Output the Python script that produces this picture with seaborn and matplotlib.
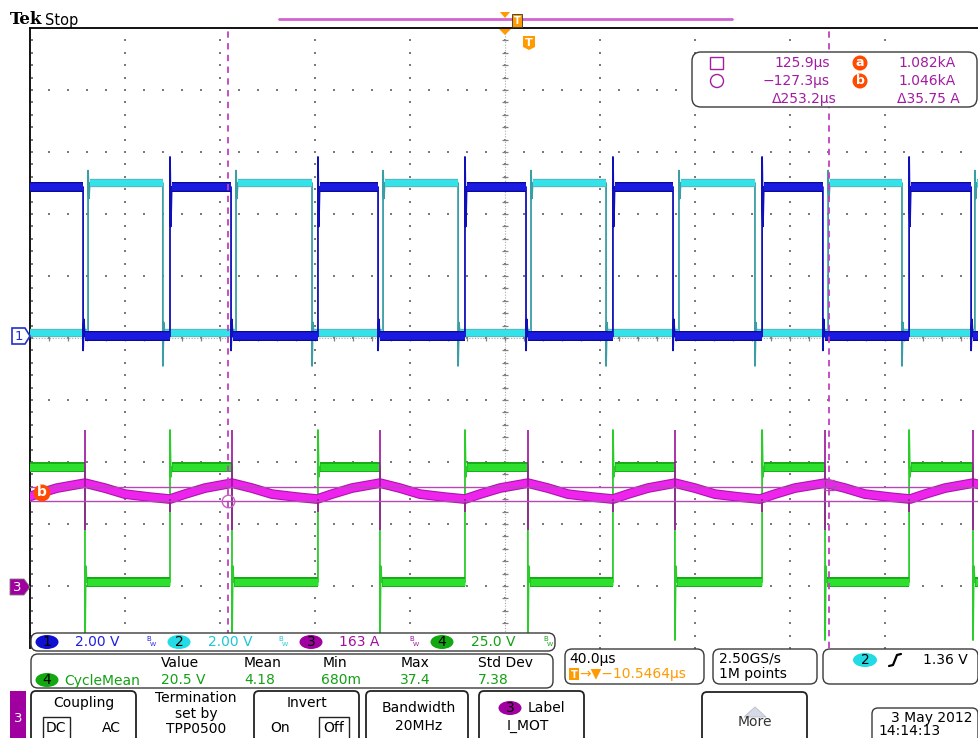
import numpy as np
import pandas as pd
import matplotlib
matplotlib.use("Agg")
import matplotlib.pyplot as plt
from matplotlib.patches import FancyBboxPatch, Polygon, Circle, Ellipse, Rectangle
import seaborn as sns

# ---------------- acquisition settings ----------------
T_CENTER_US = -10.5464          # time at screen centre (µs)
US_PER_DIV = 40.0
N_HDIV = 10
N_VDIV = 10
CH_SCALE = {"1": 2.0, "2": 2.0, "3": 163.0, "4": 25.0}
CH_POS_DIV = {"1": 5.0, "2": 5.0, "3": 1.0, "4": 1.0}   # divisions from bottom
CH3_OFFSET_A = 822.0

# ---------------- waveform edges (µs) ----------------
CH1_RISE_US = [-213.9, -151.6, -89.3, -27.4, 34.9, 97.7, 159.6]
CH1_FALL_US = [-188.2, -125.9, -64.0, -1.7, 60.2, 123.3, 185.7]
CH2_RISE_US = [-186.1, -123.8, -61.9, 0.4, 62.7, 125.5, 187.3]
CH2_FALL_US = [-216.4, -154.6, -91.8, -30.3, 32.0, 94.7, 156.6]
CH4_RISE_US = [-213.9, -151.6, -89.3, -27.4, 34.9, 97.7, 159.6]
CH4_FALL_US = [-249.7, -187.4, -125.5, -63.2, -0.9, 61.0, 124.2, 186.5]

# levels (low, high) and edge spikes (peak, ring)
CH1_LEVELS_V = (0.05, 4.87)
CH1_RISE_SPIKE_V = (5.84, 3.6)
CH1_FALL_SPIKE_V = (-0.4, 0.6)
CH2_LEVELS_V = (0.15, 5.0)
CH2_RISE_SPIKE_V = (5.4, 4.5)
CH2_FALL_SPIKE_V = (-0.9, 0.5)
CH4_LEVELS_V = (1.6, 48.0)
CH4_RISE_SPIKE_V = (62.9, 44.0)
CH4_FALL_SPIKE_V = (-21.8, 8.0)

# motor current: one switching cycle, starting at each CH4 falling edge
CH3_CYCLE_DT_US = [0.0, 8.4, 16.8, 27.4, 35.8, 42.1, 50.5]
CH3_CYCLE_A = [1092.5, 1079.4, 1063.6, 1055.7, 1050.5, 1063.6, 1079.4]
CH3_SPIKE_AT_FALL_A = (1232.0, 969.0)
CH3_SPIKE_AT_RISE_A = (1050.0, 1016.0)

# cursors
CURSOR_T_US = [125.9, -127.3]
CURSOR_I_A = [1082.0, 1046.0]

# readouts
CH_LABELS = ["2.00 V", "2.00 V", "163 A", "25.0 V"]
MEAS_HEAD = ["Value", "Mean", "Min", "Max", "Std Dev"]
MEAS_VALS = ["20.5 V", "4.18", "680m", "37.4", "7.38"]

# ---------------- helpers ----------------
def to_div(ch, v):
    off = CH3_OFFSET_A if ch == "3" else 0.0
    return CH_POS_DIV[ch] + (np.asarray(v, dtype=float) - off) / CH_SCALE[ch]


def square(rises, falls, levels, rs, fs, t_start=-260.0, t_end=240.0):
    lo, hi = levels
    ev = sorted([(t, 1) for t in rises] + [(t, 0) for t in falls])
    level = lo if ev[0][1] == 1 else hi
    pts = [(t_start, level)]
    plateaus = []
    seg_start = t_start
    for t, typ in ev:
        if typ == 1:
            pts += [(t, lo), (t, rs[0]), (t + 0.35, rs[1]), (t + 0.7, hi)]
            plateaus.append((seg_start, t, lo))
            level = hi
        else:
            pts += [(t, hi), (t, fs[0]), (t + 0.35, fs[1]), (t + 0.7, lo)]
            plateaus.append((seg_start, t, hi))
            level = lo
        seg_start = t + 0.7
    pts.append((t_end, level))
    plateaus.append((seg_start, t_end, level))
    return pts, plateaus


def plateau_df(ch, plateaus):
    rows = []
    for i, (a, b, v) in enumerate(plateaus):
        rows.append((a, float(to_div(ch, v)), i))
        rows.append((b, float(to_div(ch, v)), i))
    return pd.DataFrame(rows, columns=["t", "y", "seg"])


def pts_df(ch, pts, seg=0):
    return pd.DataFrame({"t": [p[0] for p in pts],
                         "y": to_div(ch, [p[1] for p in pts]),
                         "seg": seg})


def line(ax, df, color, lw, zorder, alpha=1.0):
    sns.lineplot(data=df, x="t", y="y", units="seg", estimator=None, sort=False,
                 color=color, lw=lw, ax=ax, legend=False, zorder=zorder,
                 alpha=alpha, solid_capstyle="butt")


# ---------------- figure ----------------
sns.set_theme(style="white")
plt.rcParams["font.family"] = ["DejaVu Sans"]
W, H = 979, 738
fig = plt.figure(figsize=(W / 100, H / 100), dpi=100)
fig.patch.set_facecolor("white")

ax = fig.add_axes([30 / W, (H - 648) / H, 950 / W, 620 / H])
ax.set_xlim(T_CENTER_US - 5 * US_PER_DIV, T_CENTER_US + 5 * US_PER_DIV)
ax.set_ylim(0, N_VDIV)
ax.set_facecolor("white")
for s in ["right", "bottom"]:
    ax.spines[s].set_visible(False)
for s in ["left", "top"]:
    ax.spines[s].set_color("#111111")
    ax.spines[s].set_linewidth(1.4)
ax.set_xticks([]); ax.set_yticks([])
ax.set_xlabel(""); ax.set_ylabel("")

# graticule dots
gx, gy = [], []
for k in range(-4, 5):
    tx = T_CENTER_US + k * US_PER_DIV
    for y in np.arange(0, N_VDIV + 0.01, 0.2):
        gx.append(tx); gy.append(y)
for j in range(1, N_VDIV + 1):
    for tt in np.arange(-200, 200.1, 8):
        gx.append(T_CENTER_US + tt); gy.append(j)
for y in np.arange(0, N_VDIV + 0.01, 0.2):
    gx.append(T_CENTER_US - 200 + 1.0); gy.append(y)
sns.scatterplot(x=gx, y=gy, ax=ax, s=1.8, color="#7a7a7a", marker="s",
                linewidth=0, zorder=1, legend=False)
# centre cross with fine ticks
ax.plot([T_CENTER_US, T_CENTER_US], [0, N_VDIV], color="#aaaaaa", lw=0.8,
        dashes=(1, 1.5), zorder=1)
ax.plot(np.full(51, T_CENTER_US), np.arange(0, 10.01, 0.2), ls="none",
        marker="_", ms=5, mew=0.9, color="#808080", zorder=1)
ax.plot([T_CENTER_US - 200, T_CENTER_US + 200], [5, 5], color="#aaaaaa", lw=0.8,
        dashes=(1, 1.5), zorder=1)
ax.plot(T_CENTER_US + np.arange(-200, 200.1, 8), np.full(51, 5.0), ls="none",
        marker="|", ms=5, mew=0.9, color="#808080", zorder=1)

# ---- CH4 (green) ----
p4, pl4 = square(CH4_RISE_US, CH4_FALL_US, CH4_LEVELS_V, CH4_RISE_SPIKE_V, CH4_FALL_SPIKE_V)
line(ax, pts_df("4", p4), "#2ccc2c", 1.3, 3)
line(ax, plateau_df("4", pl4), "#18a818", 7.2, 3)
line(ax, plateau_df("4", pl4), "#2ee02e", 5.2, 3)

# ---- CH2 (cyan) ----
p2, pl2 = square(CH2_RISE_US, CH2_FALL_US, CH2_LEVELS_V, CH2_RISE_SPIKE_V, CH2_FALL_SPIKE_V)
line(ax, pts_df("2", p2), "#3a9ea4", 1.3, 4)
line(ax, plateau_df("2", pl2), "#5ab8bc", 6.0, 4)
line(ax, plateau_df("2", pl2), "#34e2ea", 4.4, 4)

# ---- CH1 (blue) ----
p1, pl1 = square(CH1_RISE_US, CH1_FALL_US, CH1_LEVELS_V, CH1_RISE_SPIKE_V, CH1_FALL_SPIKE_V)
line(ax, pts_df("1", p1), "#1010b8", 1.3, 5)
line(ax, plateau_df("1", pl1), "#0a0a96", 7.2, 5)
line(ax, plateau_df("1", pl1), "#1a1ae0", 5.4, 5)

# ---- CH3 (magenta current) ----
p3 = []
for tf in CH4_FALL_US:
    for dt, a in zip(CH3_CYCLE_DT_US, CH3_CYCLE_A):
        p3.append((tf + dt, a))
line(ax, pts_df("3", p3), "#a818a8", 7.0, 6)
line(ax, pts_df("3", p3), "#ee24ee", 5.4, 6)
spk = []
for i, tf in enumerate(CH4_FALL_US):
    spk.append(pts_df("3", [(tf, CH3_SPIKE_AT_FALL_A[0]), (tf, CH3_SPIKE_AT_FALL_A[1])], seg=i))
for i, tr in enumerate(CH4_RISE_US):
    spk.append(pts_df("3", [(tr, CH3_SPIKE_AT_RISE_A[0]), (tr, CH3_SPIKE_AT_RISE_A[1])], seg=100 + i))
line(ax, pd.concat(spk), "#9a129a", 1.2, 6)

# ---- cursors ----
for tc in CURSOR_T_US:
    ax.plot([tc, tc], [0, N_VDIV], color="#c040c0", lw=1.3, dashes=(3.5, 3), zorder=7)
for ia in CURSOR_I_A:
    yy = float(to_div("3", ia))
    ax.plot(ax.get_xlim(), [yy, yy], color="#b448b4", lw=1.0, zorder=7)
ax.plot([CURSOR_T_US[0]], [float(to_div("3", CURSOR_I_A[0]) + 0.03)], marker="s", ms=7,
        mfc="none", mec="#b448b4", mew=1.0, zorder=8)
ax.plot([CURSOR_T_US[1]], [float(to_div("3", CURSOR_I_A[1]))], marker="o", ms=9,
        mfc="none", mec="#c860c8", mew=1.0, zorder=8)

# ---------------- overlay (pixel coordinates) ----------------
ov = fig.add_axes([0, 0, 1, 1], zorder=10)
ov.set_xlim(0, W); ov.set_ylim(H, 0)
ov.axis("off")
ov.patch.set_alpha(0)

FS = 10


def rbox(x0, y0, x1, y1, r=6, ec="#3a3a3a", fc="white", lw=1.0):
    ov.add_patch(FancyBboxPatch((x0, y0), x1 - x0, y1 - y0,
                                boxstyle=f"round,pad=0,rounding_size={r}",
                                ec=ec, fc=fc, lw=lw, zorder=1))


def txt(x, y, s, color="black", size=FS, ha="left", va="center", weight="normal", **kw):
    ov.text(x, y, s, color=color, fontsize=size, ha=ha, va=va, fontweight=weight, zorder=5, **kw)


def badge(cx, cy, s, fc, tc="black", w=23, h=14, size=FS):
    ov.add_patch(Ellipse((cx, cy), w, h, fc=fc, ec="none", zorder=3))
    txt(cx, cy + 0.5, s, color=tc, size=size, ha="center")


def bw(x, y, color):
    txt(x, y - 3, "B", color=color, size=5)
    txt(x + 4, y + 3, "W", color=color, size=4.5)


# Tek Stop
txt(10, 20, "Tek", size=12, weight="bold", family="DejaVu Serif")
txt(45, 20, "Stop", size=10.5)

# top record bar and trigger markers
ov.plot([279, 732], [19, 19], color="#d264d2", lw=2.0, zorder=2)
ov.add_patch(Polygon([(500, 12), (510, 12), (505, 18)], fc="#ff9a00", ec="none", zorder=3))
ov.add_patch(Rectangle((512, 14), 10, 13, fc="#ff9a00", ec="#333333", lw=0.6, zorder=3))
txt(517, 20.5, "T", color="white", size=7, ha="center", weight="bold")
ov.add_patch(Polygon([(499, 29), (511, 29), (505, 35)], fc="#ff9a00", ec="none", zorder=3))
ov.add_patch(Polygon([(523, 36), (535, 36), (535, 47), (529, 50), (523, 47)],
                     fc="#ff9a00", ec="none", zorder=3))
txt(529, 42.5, "T", color="white", size=8, ha="center", weight="bold")

# cursor readout box
rbox(692, 52, 977, 107, r=9)
ov.add_patch(Rectangle((710, 57), 13, 12, fc="none", ec="#a020a0", lw=1.0, zorder=3))
ov.add_patch(Circle((717, 81), 6.5, fc="none", ec="#a020a0", lw=1.0, zorder=3))
PUR = "#a21ca2"
txt(830, 63, "125.9µs", color=PUR, ha="right")
txt(830, 81, "\u2212127.3µs", color=PUR, ha="right")
txt(837, 99, "\u0394253.2µs", color=PUR, ha="right")
for yy, s in [(63, "a"), (81, "b")]:
    ov.add_patch(Circle((860, yy), 7.5, fc="#ff4a00", ec="none", zorder=3))
    txt(860, yy - 0.5, s, color="white", size=9, ha="center", weight="bold")
txt(956, 63, "1.082kA", color=PUR, ha="right")
txt(956, 81, "1.046kA", color=PUR, ha="right")
txt(960, 99, "\u039435.75 A", color=PUR, ha="right")

# left ground markers
ov.add_patch(Polygon([(12, 328), (25, 328), (30, 336), (25, 344), (12, 344)],
                     fc="white", ec="#2030d0", lw=1.2, zorder=3))
txt(19, 336.5, "1", color="#2030d0", size=9.5, ha="center")
ov.add_patch(Polygon([(10, 579), (24, 579), (30, 587), (24, 595), (10, 595)],
                     fc="#a000a0", ec="#7a7a7a", lw=0.6, zorder=3))
txt(17.5, 587.5, "3", color="white", size=9.5, ha="center")
ov.add_patch(Circle((42, 493), 8.5, fc="#ff4a00", ec="none", zorder=3))
txt(42, 492, "b", color="white", size=10, ha="center", weight="bold")

# channel readout
rbox(31, 633, 555, 651, r=7)
CH_COL = ["#2020e0", "#1ec6d6", "#a010a0", "#14a014"]
BADGE_COL = ["#1010d0", "#22dbe4", "#a000a0", "#11a811"]
BADGE_X = [47, 179, 311, 442]
TEXT_X = [75, 208, 339, 471]
BW_X = [146, 278, 409, 543]
for i in range(4):
    badge(BADGE_X[i], 642, str(i + 1), BADGE_COL[i])
    txt(TEXT_X[i], 642.5, CH_LABELS[i], color=CH_COL[i])
    bw(BW_X[i], 642, CH_COL[i])

# measurement box
rbox(31, 654, 553, 688, r=7)
COL_X = [161, 244, 323, 401, 478]
VAL_X = [161, 244, 321, 400, 478]
for x, s in zip(COL_X, MEAS_HEAD):
    txt(x, 663, s)
badge(47, 680, "4", "#11a811")
txt(64, 680.5, "CycleMean", color="#14a014")
for x, s in zip(VAL_X, MEAS_VALS):
    txt(x, 680.5, s, color="#14a014")

# bottom menu
ov.add_patch(Rectangle((10, 691), 16, 50, fc="#a000a0", ec="none", zorder=2))
txt(18, 718, "3", color="white", size=9.5, ha="center")
rbox(31, 691, 136, 748, r=5, ec="#222222", lw=1.3)
txt(84, 703, "Coupling", ha="center")
ov.add_patch(Rectangle((43, 717), 27, 30, fc="white", ec="#222222", lw=1.0, zorder=2))
txt(56, 728, "DC", ha="center")
txt(111, 728, "AC", ha="center")
txt(196, 698, "Termination", ha="center")
txt(196, 714, "set by", ha="center")
txt(196, 729, "TPP0500", ha="center")
rbox(254, 691, 359, 748, r=5, ec="#222222", lw=1.3)
txt(307, 703, "Invert", ha="center")
txt(280, 728, "On", ha="center")
ov.add_patch(Rectangle((319, 717), 30, 30, fc="white", ec="#222222", lw=1.0, zorder=2))
txt(334, 728, "Off", ha="center")
rbox(366, 691, 468, 748, r=5, ec="#222222", lw=1.3)
txt(419, 708, "Bandwidth", ha="center")
txt(419, 726, "20MHz", ha="center")
rbox(479, 691, 584, 748, r=5, ec="#222222", lw=1.3)
badge(510, 708, "3", "#a000a0")
txt(528, 708, "Label")
txt(507, 726, "I_MOT")

# timebase / sample / trigger
rbox(565, 649, 704, 684, r=7)
txt(569, 659, "40.0µs")
ov.add_patch(Rectangle((569, 668), 10, 12, fc="#ff9a00", ec="none", zorder=3))
txt(574, 674.5, "T", color="white", size=7, ha="center", weight="bold")
txt(579, 674, "\u2192\u25bc\u221210.5464µs", color="#ff9a00")
rbox(713, 649, 817, 684, r=7)
txt(719, 659, "2.50GS/s")
txt(719, 674, "1M points")
rbox(823, 649, 978, 684, r=7)
badge(865, 660, "2", "#22dbe4", w=24)
ov.plot([889, 893, 897, 901], [666, 665, 655, 654], color="black", lw=1.6, zorder=4)
txt(968, 660, "1.36 V", ha="right")

rbox(702, 692, 807, 748, r=5, ec="#222222", lw=1.3)
ov.add_patch(Polygon([(744, 717), (755, 707), (766, 717)], fc="#d6dae6", ec="#b8bcc8", lw=0.6, zorder=3))
txt(755, 722, "More", ha="center", color="#333333")
rbox(872, 708, 978, 748, r=6)
txt(973, 718, "3 May 2012", ha="right")
txt(878, 731, "14:14:13")

fig.savefig("out.png", dpi=100, facecolor="white")
